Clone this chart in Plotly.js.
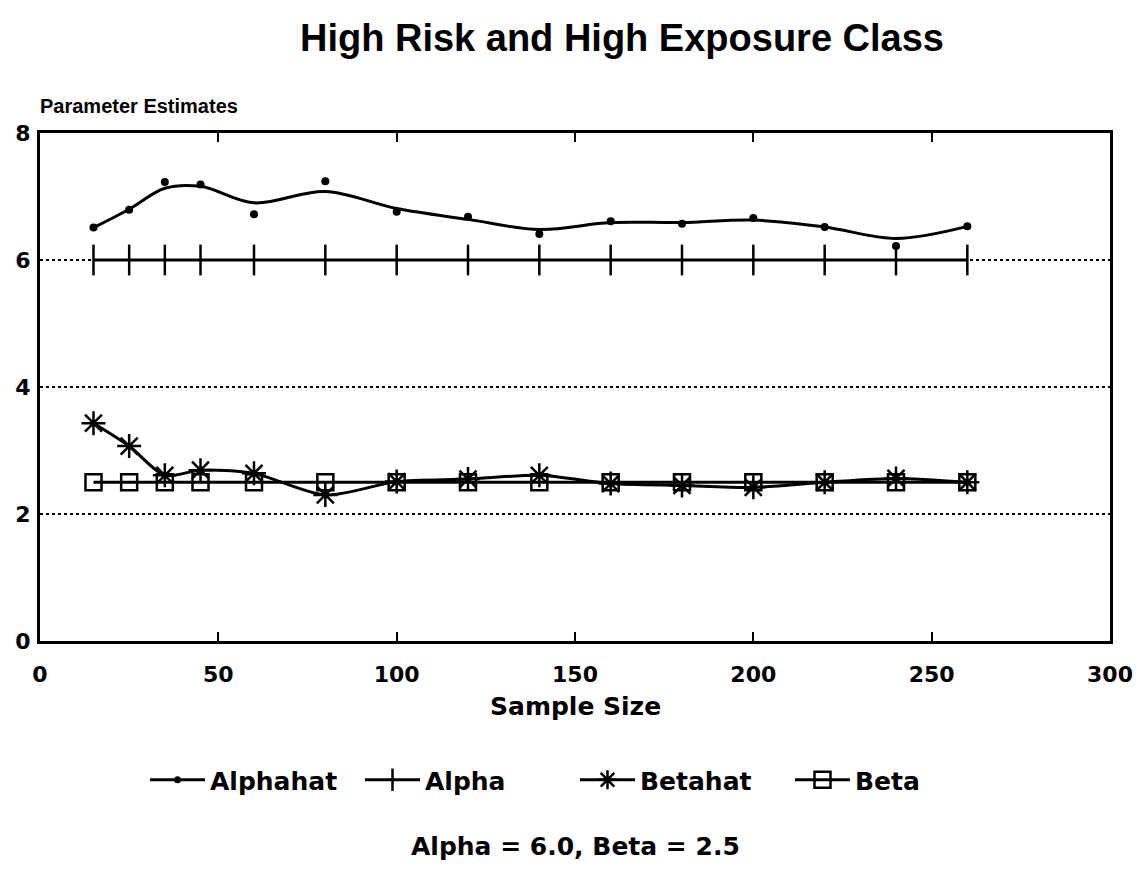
<!DOCTYPE html>
<html>
<head>
<meta charset="utf-8">
<script src="https://cdn.plot.ly/plotly-3.0.1.min.js"></script>
<style>html,body{margin:0;padding:0;background:#fff;}#chart{width:1148px;height:877px;}</style>
</head>
<body>
<div id="chart"></div>
<script>
const sampleSize = [15, 25, 35, 45, 60, 80, 100, 120, 140, 160, 180, 200, 220, 240, 260];
const alphahat    = [6.51, 6.79, 7.23, 7.19, 6.72, 7.24, 6.76, 6.68, 6.41, 6.61, 6.57, 6.66, 6.52, 6.22, 6.53];
const alphahatFit = [6.51, 6.80, 7.13, 7.16, 6.90, 7.08, 6.81, 6.64, 6.48, 6.59, 6.59, 6.63, 6.52, 6.34, 6.53];
const alpha   = [6, 6, 6, 6, 6, 6, 6, 6, 6, 6, 6, 6, 6, 6, 6];
const betahat = [3.43, 3.07, 2.61, 2.69, 2.64, 2.30, 2.51, 2.55, 2.61, 2.48, 2.45, 2.42, 2.50, 2.56, 2.50];
const beta    = [2.5, 2.5, 2.5, 2.5, 2.5, 2.5, 2.5, 2.5, 2.5, 2.5, 2.5, 2.5, 2.5, 2.5, 2.5];
const xTicks = [0, 50, 100, 150, 200, 250, 300];
const yTicks = [0, 2, 4, 6, 8];

const F = 'Liberation Sans, Arial, sans-serif';
const D = 'DejaVu Sans, Verdana, sans-serif';
const traces = [
  {x: sampleSize, y: alphahatFit, mode: 'lines', line: {color: '#000', width: 3, shape: 'spline', smoothing: 1}, showlegend: false, hoverinfo: 'skip'},
  {x: sampleSize, y: alphahat, mode: 'markers', marker: {color: '#000', size: 8, symbol: 'circle'}, showlegend: false},
  {x: [null], y: [null], mode: 'lines+markers', name: '<b>Alphahat</b>', line: {color: '#000', width: 3}, marker: {color: '#000', size: 7}},
  {x: sampleSize, y: alpha, mode: 'lines+markers', name: '<b>Alpha</b>', line: {color: '#000', width: 3},
   marker: {symbol: 'line-ns', size: 22, line: {color: '#000', width: 2.5}}},
  {x: sampleSize, y: betahat, mode: 'lines+markers', name: '<b>Betahat</b>', line: {color: '#000', width: 3, shape: 'spline', smoothing: 0.8},
   marker: {symbol: 'asterisk', size: 20, line: {color: '#000', width: 2.5}}},
  {x: sampleSize, y: beta, mode: 'lines+markers', name: '<b>Beta</b>', line: {color: '#000', width: 3},
   marker: {symbol: 'square-open', size: 16, color: '#000', line: {color: '#000', width: 2.5}}}
];

const layout = {
  width: 1148, height: 877,
  paper_bgcolor: '#fff', plot_bgcolor: '#fff',
  margin: {l: 40, r: 38, t: 133, b: 236},
  font: {family: F, color: '#000'},
  title: {text: '<b>High Risk and High Exposure Class</b>', font: {family: F, size: 38, color: '#000'},
          xref: 'container', x: 622 / 1148, xanchor: 'center', y: 1 - 38 / 877, yanchor: 'middle'},
  xaxis: {range: [0, 300], tickvals: xTicks, ticktext: xTicks.map(v => '<b>' + v + '</b>'),
          tickfont: {family: D, size: 22, color: '#000'}, ticks: 'inside', ticklen: 9, tickwidth: 2, tickcolor: '#000',
          showline: true, linecolor: '#000', linewidth: 3, mirror: 'ticks', showgrid: false, zeroline: false,
          ticklabelstandoff: 12},
  yaxis: {range: [0, 8], tickvals: yTicks, ticktext: yTicks.map(v => '<b>' + v + '</b>'),
          tickfont: {family: D, size: 22, color: '#000'}, ticks: '', ticklabelstandoff: 2,
          showline: true, linecolor: '#000', linewidth: 3, mirror: true,
          showgrid: true, gridcolor: '#000', gridwidth: 2, griddash: 'dot', zeroline: false},
  legend: {orientation: 'h', x: 0.5, xanchor: 'center', y: (641 - 780) / 508, yanchor: 'middle',
           font: {family: D, size: 25, color: '#000'}, itemwidth: 55, entrywidth: 145, entrywidthmode: 'pixels',
           bgcolor: 'rgba(0,0,0,0)', traceorder: 'normal'},
  annotations: [
    {text: '<b>Parameter Estimates</b>', xref: 'paper', yref: 'paper', x: 0, xanchor: 'left', xshift: -2,
     y: (641 - 106) / 508, yanchor: 'middle', showarrow: false, font: {family: F, size: 20, color: '#000'}},
    {text: '<b>Sample Size</b>', xref: 'paper', yref: 'paper', x: 0.5, xanchor: 'center',
     y: (641 - 706) / 508, yanchor: 'middle', showarrow: false, font: {family: D, size: 25, color: '#000'}},
    {text: '<b>Alpha = 6.0, Beta = 2.5</b>', xref: 'paper', yref: 'paper', x: 0.5, xanchor: 'center',
     y: (641 - 846) / 508, yanchor: 'middle', showarrow: false, font: {family: D, size: 25, color: '#000'}}
  ],
  showlegend: true
};

Plotly.newPlot('chart', traces, layout, {displayModeBar: false, staticPlot: true});
</script>
</body>
</html>
